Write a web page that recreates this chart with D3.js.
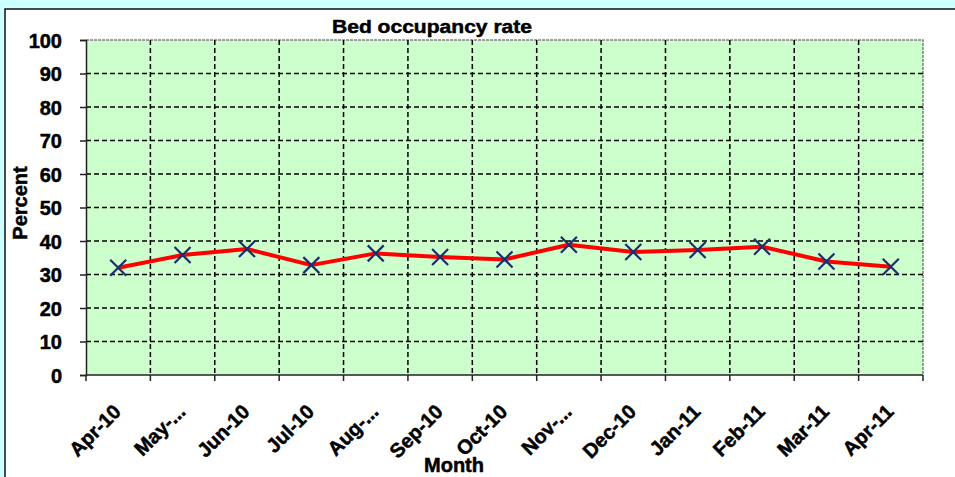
<!DOCTYPE html>
<html>
<head>
  <meta charset="UTF-8">
  <style>
    body { margin: 0; background: #ccffff; }
    svg { display: block; font-family: "Liberation Sans", Arial, sans-serif; }
    .heavy { font-weight: bold; stroke: black; stroke-width: 0.5; fill: black; }
  </style>
</head>
<body>
<svg></svg>
<script src="https://d3js.org/d3.v7.min.js"></script>
<script>

let width = 955, height = 477;

// data
const months = ["Apr-10", "May-10", "Jun-10", "Jul-10", "Aug-10", "Sep-10", "Oct-10",
                "Nov-10", "Dec-10", "Jan-11", "Feb-11", "Mar-11", "Apr-11"];
const monthLabels = ["Apr-10", "May-...", "Jun-10", "Jul-10", "Aug-...", "Sep-10", "Oct-10",
                     "Nov-...", "Dec-10", "Jan-11", "Feb-11", "Mar-11", "Apr-11"];
const occupancy = [32.0, 35.8, 37.6, 32.8, 36.3, 35.2, 34.5, 38.9, 36.7, 37.3, 38.3, 33.9, 32.3];
const yTicks = [0, 10, 20, 30, 40, 50, 60, 70, 80, 90, 100];

let svg = d3.select("svg")
    .attr("width", width)
    .attr("height", height);

// white chart panel
svg.append("rect")
    .attr("x", 5).attr("y", 9)
    .attr("width", width + 10).attr("height", height)
    .attr("fill", "white")
    .attr("stroke", "#111")
    .attr("stroke-width", 1.5);

const plot = {left: 86, right: 923, top: 40, bottom: 375};

let x = d3.scaleBand()
    .domain(months)
    .range([plot.left, plot.right]);

let y = d3.scaleLinear()
    .domain([0, 100])
    .range([plot.bottom, plot.top]);

// plot background
svg.append("rect")
    .attr("x", plot.left).attr("y", plot.top)
    .attr("width", plot.right - plot.left).attr("height", plot.bottom - plot.top)
    .attr("fill", "#ccffcc");

// gray dashed border top/right
svg.append("path")
    .attr("d", `M${plot.left},${plot.top}H${plot.right}V${plot.bottom}`)
    .attr("fill", "none")
    .attr("stroke", "#808080")
    .attr("stroke-dasharray", "3,1")
    .attr("stroke-width", 1.5);

// horizontal gridlines
svg.append("g")
    .selectAll("line")
    .data(yTicks.filter(d => d > 0 && d < 100))
    .enter()
    .append("line")
    .attr("x1", plot.left).attr("x2", plot.right)
    .attr("y1", d => y(d)).attr("y2", d => y(d))
    .attr("stroke", "black")
    .attr("stroke-width", 1.5)
    .attr("stroke-dasharray", "5,3");

// vertical gridlines at category boundaries
svg.append("g")
    .selectAll("line")
    .data(months.slice(1))
    .enter()
    .append("line")
    .attr("x1", d => x(d)).attr("x2", d => x(d))
    .attr("y1", plot.top).attr("y2", plot.bottom)
    .attr("stroke", "black")
    .attr("stroke-width", 1.5)
    .attr("stroke-dasharray", "5,3");

// y axis
let yAxis = d3.axisLeft(y)
    .tickValues(yTicks)
    .tickSize(6)
    .tickPadding(18);

let yg = svg.append("g")
    .attr("transform", `translate(${plot.left},0)`)
    .call(yAxis);
yg.select(".domain").attr("stroke", "#222").attr("stroke-width", 1.5);
yg.selectAll(".tick line").attr("stroke", "#222").attr("stroke-width", 1.5);
yg.selectAll("text")
    .attr("class", "heavy")
    .attr("font-size", 20)
    .attr("dy", "0.36em");

// x axis line + boundary ticks
svg.append("line")
    .attr("x1", plot.left).attr("x2", plot.right)
    .attr("y1", plot.bottom).attr("y2", plot.bottom)
    .attr("stroke", "#222").attr("stroke-width", 1.5);

svg.append("g")
    .selectAll("line")
    .data(months.concat(["end"]))
    .enter()
    .append("line")
    .attr("x1", d => d === "end" ? plot.right : x(d))
    .attr("x2", d => d === "end" ? plot.right : x(d))
    .attr("y1", plot.bottom).attr("y2", plot.bottom + 6)
    .attr("stroke", "#222").attr("stroke-width", 1.5);

// rotated month labels
svg.append("g")
    .selectAll("text")
    .data(months)
    .enter()
    .append("text")
    .attr("class", "heavy")
    .attr("transform", d => `translate(${x(d) + x.bandwidth() / 2 + 4},${plot.bottom + 38}) rotate(-45)`)
    .attr("text-anchor", "end")
    .attr("font-size", 20)
    .text((d, i) => monthLabels[i]);

// line
let line = d3.line()
    .x((d, i) => x(months[i]) + x.bandwidth() / 2)
    .y(d => y(d));

svg.append("path")
    .datum(occupancy)
    .attr("d", line)
    .attr("fill", "none")
    .attr("stroke", "#ff0000")
    .attr("stroke-width", 4)
    .attr("stroke-linejoin", "round");

// X markers
const m = 8;
svg.append("g")
    .selectAll("path")
    .data(occupancy)
    .enter()
    .append("path")
    .attr("d", (d, i) => {
        let cx = x(months[i]) + x.bandwidth() / 2, cy = y(d);
        return `M${cx - m},${cy - m}L${cx + m},${cy + m}M${cx - m},${cy + m}L${cx + m},${cy - m}`;
    })
    .attr("stroke", "#1a2f6e")
    .attr("stroke-width", 2.2);

// titles
svg.append("text")
    .attr("class", "heavy")
    .attr("x", 432).attr("y", 33)
    .attr("text-anchor", "middle")
    .attr("font-size", 19)
    .attr("textLength", 200)
    .attr("lengthAdjust", "spacingAndGlyphs")
    .text("Bed occupancy rate");

svg.append("text")
    .attr("class", "heavy")
    .attr("transform", "translate(27,203) rotate(-90)")
    .attr("text-anchor", "middle")
    .attr("font-size", 20)
    .text("Percent");

svg.append("text")
    .attr("class", "heavy")
    .attr("x", 454).attr("y", 472)
    .attr("text-anchor", "middle")
    .attr("font-size", 20)
    .text("Month");

</script>
</body>
</html>
